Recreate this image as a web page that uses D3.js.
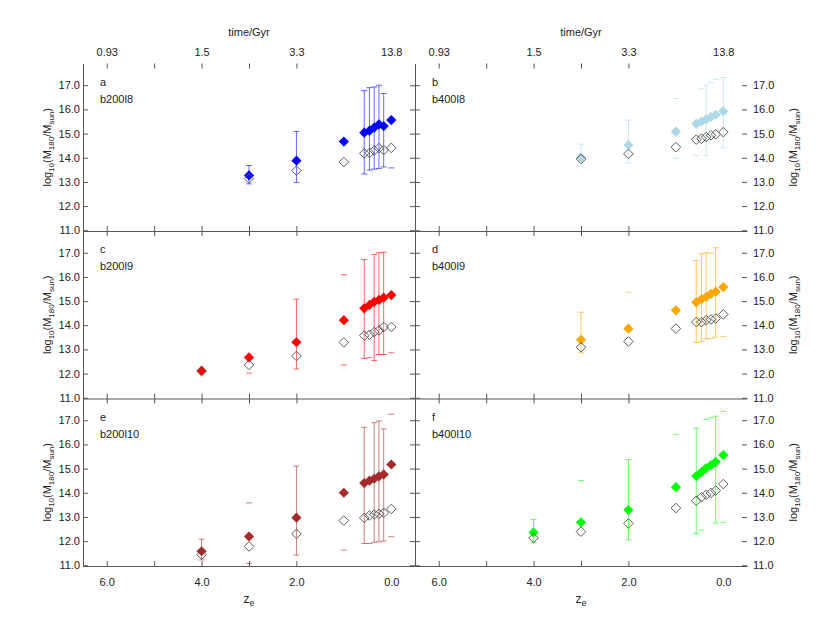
<!DOCTYPE html>
<html>
<head>
<meta charset="utf-8">
<script src="https://cdn.jsdelivr.net/npm/d3@7"></script>
<style>
  body { margin: 0; background: #fff; }
  text { font-family: "Liberation Sans", Arial, sans-serif; }
</style>
</head>
<body>
<div id="chart"></div>
<script>
//------------- data -------------
// redshift of each snapshot (same for every run)
var zSnap = [4, 3, 2, 1, 0.57, 0.46, 0.36, 0.26, 0.16, 0];

var panelTags = ["a", "b", "c", "d", "e", "f"];
var runNames = ["b200l8", "b400l8", "b200l9", "b400l9", "b200l10", "b400l10"];

// filled diamonds, log10(M180/Msun)
var massFilled = [
  [null, 13.27, 13.88, 14.67, 15.04, 15.12, 15.25, 15.38, 15.31, 15.56],
  [null, 14.01, 14.53, 15.08, 15.41, 15.50, 15.59, 15.69, 15.78, 15.92],
  [12.12, 12.67, 13.30, 14.21, 14.70, 14.84, 14.97, 15.05, 15.14, 15.25],
  [null, 13.40, 13.86, 14.62, 14.95, 15.08, 15.18, 15.30, 15.39, 15.58],
  [11.58, 12.19, 12.97, 14.00, 14.40, 14.50, 14.58, 14.68, 14.76, 15.17],
  [12.36, 12.78, 13.29, 14.23, 14.69, 14.86, 15.02, 15.14, 15.28, 15.56]
];

// open diamonds
var massOpen = [
  [null, 13.14, 13.47, 13.82, 14.18, 14.20, 14.30, 14.40, 14.32, 14.41],
  [null, 13.95, 14.16, 14.44, 14.75, 14.79, 14.86, 14.93, 14.97, 15.06],
  [12.10, 12.36, 12.73, 13.29, 13.57, 13.61, 13.72, 13.79, 13.93, 13.93],
  [null, 13.09, 13.33, 13.86, 14.13, 14.13, 14.21, 14.24, 14.28, 14.45],
  [11.44, 11.78, 12.30, 12.85, 12.96, 13.06, 13.10, 13.13, 13.17, 13.33],
  [12.13, 12.39, 12.73, 13.37, 13.67, 13.82, 13.92, 13.99, 14.09, 14.36]
];

// error bar ends (null = no cap)
var errLow = [
  [null, 12.92, 12.98, null, 13.33, 13.49, 13.53, 13.56, 13.62, 13.58],
  [null, 13.85, 13.78, 13.99, 14.10, null, 14.10, null, null, 14.41],
  [null, 12.02, 12.19, 12.36, 12.63, 12.66, 12.54, 12.79, 12.79, 12.86],
  [null, 12.86, null, null, 13.29, 13.33, 13.44, 13.46, 13.51, 13.54],
  [11.22, 11.08, 11.42, 11.63, 11.90, 11.90, 11.95, 11.97, 12.00, 12.18],
  [11.94, null, 12.05, null, 12.32, 12.46, null, null, 12.75, 12.78]
];
var errHigh = [
  [null, 13.68, 15.09, null, 16.78, 16.90, 16.93, 17.00, 16.66, null],
  [null, 14.56, 15.56, 16.45, null, 16.86, 17.00, 17.10, 17.25, 17.32],
  [null, null, 15.08, 16.09, 16.72, null, 16.93, 17.00, 17.02, null],
  [null, 14.54, 15.37, null, 16.68, 16.96, 17.00, 16.98, 17.21, null],
  [12.08, 13.58, 15.10, null, 16.71, null, 16.90, 16.97, 16.64, 17.25],
  [12.89, 14.50, 15.37, 16.42, 16.67, null, 17.04, 17.10, 17.17, 17.36]
];
// 1 where the vertical stem of the error bar is drawn
var errStem = [
  [0, 1, 1, 0, 1, 1, 1, 1, 1, 0],
  [0, 1, 1, 0, 0, 0, 1, 0, 0, 1],
  [0, 0, 1, 0, 1, 0, 1, 1, 1, 0],
  [0, 1, 0, 0, 1, 1, 1, 0, 1, 0],
  [1, 0, 1, 0, 1, 0, 1, 1, 1, 0],
  [1, 0, 1, 0, 1, 0, 0, 0, 1, 0]
];

// axis ticks (tick marks only drawn down to z = 2)
var zTicks = [6, 5, 4, 3, 2, 1, 0];
var zTickMarkMin = 2;
var zTickLabels = ["6.0", "", "4.0", "", "2.0", "", "0.0"];
var timeTickLabels = ["0.93", "", "1.5", "", "3.3", "", "13.8"];
var massTicks = [11, 12, 13, 14, 15, 16, 17];

//------------- layout -------------
var width = 830, height = 631;
var colX = [83, 415];
var rowY = [63.5, 231, 398.5];
var panelW = 332, panelH = 167.5;
var colours = ["#0000ff", "#add8e6", "#ff0000", "#ffa500", "#a52a2a", "#00ff00"];
var frameCol = "#555";
var txtCol = "#222";

var svg = d3.select("#chart")
  .append("svg")
  .attr("width", width)
  .attr("height", height);

var diamond = d3.symbol().type(d3.symbolSquare);

function styleAxis(g) {
  g.attr("font-family", "Liberation Sans, Arial, sans-serif").attr("font-size", 11);
  g.selectAll("path.domain").attr("stroke", frameCol);
  g.selectAll(".tick line").attr("stroke", frameCol);
  g.selectAll(".tick text").attr("fill", txtCol);
}

// the redshift axes carry no tick marks at z = 1 and z = 0
function dropLowTicks(g) {
  g.selectAll(".tick").filter(function(d) { return d < zTickMarkMin; })
    .select("line").remove();
}

panelTags.forEach(function(tag, p) {
  var col = p % 2, row = Math.floor(p / 2);
  var x0 = colX[col], y0 = rowY[row];

  var x = d3.scaleLinear().domain([6.5, -0.5]).range([x0, x0 + panelW]);
  var y = d3.scaleLinear().domain([10.97, 17.9]).range([y0 + panelH, y0]);

  var g = svg.append("g").attr("class", "panel " + tag);

  // bottom axis (line + inward ticks)
  g.append("g")
    .attr("transform", "translate(0," + (y0 + panelH) + ")")
    .call(d3.axisBottom(x).tickValues(zTicks).tickSizeInner(-5).tickSizeOuter(0).tickPadding(12)
      .tickFormat(function(d, i) { return row == 2 ? zTickLabels[i] : ""; }))
    .call(styleAxis)
    .call(dropLowTicks);

  // top ticks only
  var top = g.append("g")
    .attr("transform", "translate(0," + y0 + ")")
    .call(d3.axisTop(x).tickValues(zTicks).tickSizeInner(-5).tickSizeOuter(0).tickPadding(8)
      .tickFormat(function(d, i) { return row == 0 ? timeTickLabels[i] : ""; }))
    .call(styleAxis)
    .call(dropLowTicks);
  top.select("path.domain").remove();

  // left side
  var left = g.append("g")
    .attr("transform", "translate(" + x0 + ",0)")
    .call(d3.axisLeft(y).tickValues(massTicks).tickSizeInner(-5).tickSizeOuter(0).tickPadding(3)
      .tickFormat(function(d) { return col == 0 ? d3.format(".1f")(d) : ""; }))
    .call(styleAxis);
  if (col == 1) left.select("path.domain").remove();

  // right side
  var right = g.append("g")
    .attr("transform", "translate(" + (x0 + panelW) + ",0)")
    .call(d3.axisRight(y).tickValues(massTicks).tickSizeInner(-5).tickSizeOuter(0).tickPadding(6)
      .tickFormat(function(d) { return col == 1 ? d3.format(".1f")(d) : ""; }))
    .call(styleAxis);
  if (col == 1) right.select("path.domain").remove();

  // points for this run
  var pts = zSnap.map(function(z, i) {
    return { z: z, m: massFilled[p][i], o: massOpen[p][i],
             lo: errLow[p][i], hi: errHigh[p][i], stem: errStem[p][i] };
  });

  // error bars
  var eb = g.append("g")
    .attr("stroke", colours[p])
    .attr("stroke-opacity", 0.6)
    .attr("stroke-width", 1);
  pts.forEach(function(d) {
    var cx = x(d.z);
    if (d.stem && d.lo != null && d.hi != null) {
      eb.append("line").attr("x1", cx).attr("x2", cx).attr("y1", y(d.lo)).attr("y2", y(d.hi));
    }
    [d.lo, d.hi].forEach(function(v) {
      if (v == null) return;
      eb.append("line").attr("x1", cx - 3).attr("x2", cx + 3).attr("y1", y(v)).attr("y2", y(v));
    });
  });

  // filled diamonds
  g.selectAll("path.filled")
    .data(pts.filter(function(d) { return d.m != null; }))
    .enter().append("path")
    .attr("class", "filled")
    .attr("d", diamond.size(52))
    .attr("transform", function(d) { return "translate(" + x(d.z) + "," + y(d.m) + ")rotate(45)"; })
    .attr("fill", colours[p]);

  // open diamonds
  g.selectAll("path.open")
    .data(pts.filter(function(d) { return d.o != null; }))
    .enter().append("path")
    .attr("class", "open")
    .attr("d", diamond.size(46))
    .attr("transform", function(d) { return "translate(" + x(d.z) + "," + y(d.o) + ")rotate(45)"; })
    .attr("fill", "none")
    .attr("stroke", "#555")
    .attr("stroke-width", 0.9);

  // panel tag and run name
  g.append("text").attr("x", x0 + 17).attr("y", y0 + 22)
    .attr("font-size", 11).attr("fill", txtCol).text(tag);
  g.append("text").attr("x", x0 + 17).attr("y", y0 + 39)
    .attr("font-size", 11).attr("fill", txtCol).text(runNames[p]);

  // y title, left or right
  var tx = col == 0 ? 47 : 793, ty = y0 + panelH / 2;
  var yt = g.append("text")
    .attr("transform", "translate(" + tx + "," + ty + ")rotate(-90)")
    .attr("text-anchor", "middle")
    .attr("dy", "0.35em")
    .attr("font-size", 11)
    .attr("fill", txtCol);
  yt.append("tspan").text("log");
  yt.append("tspan").attr("font-size", 8).attr("dy", 3).text("10");
  yt.append("tspan").attr("dy", -3).text("(M");
  yt.append("tspan").attr("font-size", 8).attr("dy", 3).text("180");
  yt.append("tspan").attr("dy", -3).text("/M");
  yt.append("tspan").attr("font-size", 8).attr("dy", 3).text("sun");
  yt.append("tspan").attr("dy", -3).text(")");

  // x titles
  if (row == 0) {
    g.append("text").attr("x", x0 + panelW / 2).attr("y", 36)
      .attr("text-anchor", "middle").attr("font-size", 11).attr("fill", txtCol)
      .text("time/Gyr");
  }
  if (row == 2) {
    var xt = g.append("text").attr("x", x0 + panelW / 2).attr("y", 603)
      .attr("text-anchor", "middle").attr("font-size", 12).attr("fill", txtCol);
    xt.append("tspan").text("z");
    xt.append("tspan").attr("font-size", 9).attr("dy", 3).text("e");
  }
});
</script>
</body>
</html>
